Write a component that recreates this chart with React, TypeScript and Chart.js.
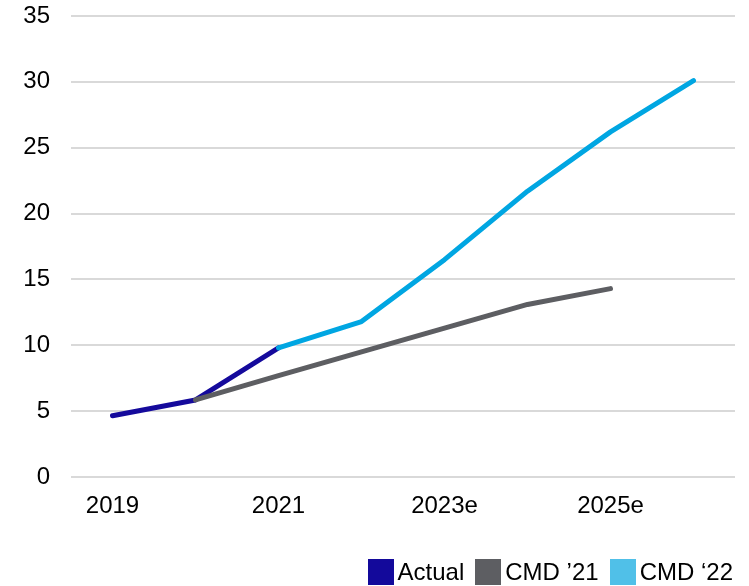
import React, { useEffect, useRef } from "react";
import { Chart, registerables } from "chart.js";

Chart.register(...registerables);

const years = ["2019", "2020", "2021", "2022", "2023e", "2024e", "2025e", "2026e"];
const actual = [4.65, 5.85, 9.8, null, null, null, null, null];
const cmd21 = [null, 5.85, 7.7, 9.5, 11.3, 13.1, 14.3, null];
const cmd22 = [null, null, 9.8, 11.8, 16.5, 21.7, 26.2, 30.1];
const yTicks = [0, 5, 10, 15, 20, 25, 30, 35];

const legendItems = [
  { label: "Actual", color: "#13099b" },
  { label: "CMD \u201921", color: "#5d5e62" },
  { label: "CMD \u201822", color: "#50c0e8" },
];

const FONT = "'Liberation Sans', Arial, Helvetica, sans-serif";

export default function App() {
  const canvasRef = useRef<HTMLCanvasElement | null>(null);

  useEffect(() => {
    document.body.style.margin = "0";
    const ctx = canvasRef.current;
    if (!ctx) return;
    const line = (label: string, data: (number | null)[], color: string, order: number) => ({
      label,
      data,
      borderColor: color,
      backgroundColor: color,
      borderWidth: 5,
      pointRadius: 0,
      pointHoverRadius: 0,
      borderCapStyle: "round" as const,
      borderJoinStyle: "round" as const,
      spanGaps: false,
      tension: 0,
      order,
    });
    const chart = new Chart(ctx, {
      type: "line",
      data: {
        labels: years,
        datasets: [
          line("Actual", actual, "#150a9c", 3),
          line("CMD \u201921", cmd21, "#5d5e62", 2),
          line("CMD \u201822", cmd22, "#00a6e2", 1),
        ],
      },
      options: {
        responsive: false,
        animation: false,
        layout: { padding: { top: 0, right: 14, bottom: 0, left: 0 } },
        plugins: { legend: { display: false }, tooltip: { enabled: false } },
        scales: {
          x: {
            offset: true,
            grid: { display: false, drawTicks: false },
            border: { display: false },
            ticks: {
              autoSkip: false,
              maxRotation: 0,
              padding: 15,
              color: "#000",
              font: { family: FONT, size: 24 },
              callback: (_v: any, i: number) => (i % 2 === 0 ? years[i] : ""),
            },
            afterFit: (s: any) => {
              s.height = 109;
            },
          },
          y: {
            min: 0,
            max: 35,
            afterBuildTicks: (s: any) => {
              s.ticks = yTicks.map((v) => ({ value: v }));
            },
            grid: { color: "#d9d9d9", lineWidth: 2, drawTicks: false },
            border: { display: false },
            ticks: {
              padding: 21,
              color: "#000",
              font: { family: FONT, size: 24 },
            },
            afterFit: (s: any) => {
              s.width = 71;
              s.paddingTop = 16;
              s.paddingBottom = 0;
            },
          },
        },
      },
    });
    return () => chart.destroy();
  }, []);

  return (
    <div style={{ position: "relative", width: 749, height: 586, fontFamily: FONT }}>
      <canvas ref={canvasRef} width={749} height={586} style={{ display: "block" }} />
      <div
        style={{
          position: "absolute",
          right: 16,
          top: 559,
          display: "flex",
          alignItems: "center",
          height: 26,
        }}
      >
        {legendItems.map((it, i) => (
          <div key={it.label} style={{ display: "flex", alignItems: "center", marginLeft: i === 0 ? 0 : 11 }}>
            <span style={{ width: 26, height: 26, background: it.color, display: "inline-block" }} />
            <span style={{ fontSize: 24, color: "#000", marginLeft: 4, lineHeight: "26px" }}>{it.label}</span>
          </div>
        ))}
      </div>
    </div>
  );
}
